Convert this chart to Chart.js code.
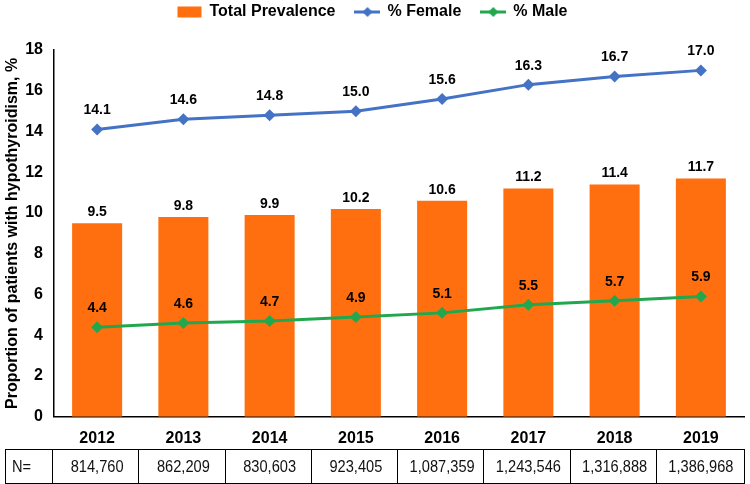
<!DOCTYPE html>
<html>
<head>
<meta charset="utf-8">
<script src="https://cdn.jsdelivr.net/npm/chart.js@4"></script>
<style>
  body { margin: 0; background: #fff; }
  #wrap { width: 750px; height: 484px; }
</style>
</head>
<body>
<div id="wrap"><canvas id="chart" width="750" height="484"></canvas></div>
<script>
const years = ['2012', '2013', '2014', '2015', '2016', '2017', '2018', '2019'];
const totalPrev = [9.5, 9.8, 9.9, 10.2, 10.6, 11.2, 11.4, 11.7];
const female = [14.1, 14.6, 14.8, 15.0, 15.6, 16.3, 16.7, 17.0];
const male = [4.4, 4.6, 4.7, 4.9, 5.1, 5.5, 5.7, 5.9];
const nValues = ['814,760', '862,209', '830,603', '923,405', '1,087,359', '1,243,546', '1,316,888', '1,386,968'];

const ORANGE = '#FF6F10';
const BLUE = '#4472C4';
const GREEN = '#21A84E';
const FONT = '"Liberation Sans", Arial, sans-serif';

// little line+diamond icons for the legend
function lineIcon(color) {
  const c = document.createElement('canvas');
  c.width = 26; c.height = 12;
  const g = c.getContext('2d');
  g.strokeStyle = color; g.lineWidth = 3;
  g.beginPath(); g.moveTo(0, 6); g.lineTo(26, 6); g.stroke();
  g.fillStyle = color;
  g.beginPath(); g.moveTo(13, 1); g.lineTo(18, 6); g.lineTo(13, 11); g.lineTo(8, 6); g.closePath(); g.fill();
  return c;
}

// legend: keep wide item spacing but sit it near the top edge
const legendGap = {
  id: 'legendGap',
  beforeInit(chart) {
    const fit = chart.legend.fit;
    chart.legend.fit = function () {
      fit.call(this);
      this.height += 4;
    };
  },
  afterLayout(chart) {
    chart.legend.top -= 16;
    chart.legend.bottom -= 16;
  }
};

const valueLabels = {
  id: 'valueLabels',
  afterDatasetsDraw(chart) {
    const ctx = chart.ctx;
    ctx.save();
    ctx.font = 'bold 14px ' + FONT;
    ctx.fillStyle = '#000';
    ctx.textAlign = 'center';
    ctx.textBaseline = 'middle';
    chart.data.datasets.forEach((ds, i) => {
      const meta = chart.getDatasetMeta(i);
      const off = ds.type === 'bar' ? 11 : 19;
      meta.data.forEach((el, j) => {
        ctx.fillText(ds.data[j].toFixed(1), el.x, el.y - off);
      });
    });
    ctx.restore();
  }
};

function narrowText(ctx, txt, x, y) {
  ctx.save();
  ctx.translate(x, y);
  ctx.scale(0.86, 1);
  ctx.fillText(txt, 0, 0);
  ctx.restore();
}

// N= table under the axis
const nTable = {
  id: 'nTable',
  afterDraw(chart) {
    const ctx = chart.ctx;
    const xs = chart.scales.x;
    const top = 449, bottom = 483;
    const step = (xs.right - xs.left) / years.length;
    const mid = (top + bottom) / 2 + 1;
    ctx.save();
    ctx.strokeStyle = '#000';
    ctx.lineWidth = 1;
    ctx.strokeRect(5.5, top + 0.5, xs.right - 5, bottom - top);
    for (let i = 0; i < years.length; i++) {
      const x = Math.round(xs.left - 2 + i * step) + 0.5;
      ctx.beginPath(); ctx.moveTo(x, top); ctx.lineTo(x, bottom); ctx.stroke();
    }
    ctx.font = '17px ' + FONT;
    ctx.fillStyle = '#111';
    ctx.textBaseline = 'middle';
    ctx.textAlign = 'left';
    narrowText(ctx, 'N=', 12, mid);
    ctx.textAlign = 'center';
    nValues.forEach((v, i) => {
      narrowText(ctx, v, xs.getPixelForValue(i), mid);
    });
    ctx.restore();
  }
};

new Chart(document.getElementById('chart'), {
  type: 'bar',
  data: {
    labels: years,
    datasets: [
      {
        type: 'bar', label: 'Total Prevalence', data: totalPrev,
        backgroundColor: ORANGE, barPercentage: 0.58, categoryPercentage: 1, order: 3
      },
      {
        type: 'line', label: '% Female', data: female,
        borderColor: BLUE, backgroundColor: BLUE, borderWidth: 3,
        pointStyle: 'rectRot', pointRadius: 6, pointBorderWidth: 0, order: 1
      },
      {
        type: 'line', label: '% Male', data: male,
        borderColor: GREEN, backgroundColor: GREEN, borderWidth: 3,
        pointStyle: 'rectRot', pointRadius: 6, pointBorderWidth: 0, order: 2
      }
    ]
  },
  options: {
    responsive: false,
    animation: false,
    layout: { padding: { left: 0, right: 5, top: 0, bottom: 24 } },
    plugins: {
      tooltip: { enabled: false },
      legend: {
        position: 'top',
        labels: {
          usePointStyle: true,
          pointStyleWidth: 24,
          boxHeight: 11,
          padding: 20,
          color: '#000',
          font: { family: FONT, size: 16, weight: 'bold' },
          sort: (a, b) => a.datasetIndex - b.datasetIndex,
          generateLabels(chart) {
            const items = Chart.defaults.plugins.legend.labels.generateLabels(chart);
            items.forEach(it => {
              if (it.datasetIndex === 0) { it.pointStyle = 'rect'; it.lineWidth = 0; }
              if (it.datasetIndex === 1) it.pointStyle = lineIcon(BLUE);
              if (it.datasetIndex === 2) it.pointStyle = lineIcon(GREEN);
            });
            return items;
          }
        }
      }
    },
    scales: {
      x: {
        grid: { display: false, drawTicks: false },
        border: { display: true, color: '#000', width: 1.5 },
        ticks: {
          color: '#000', padding: 12,
          font: { family: FONT, size: 16, weight: 'bold' }
        }
      },
      y: {
        min: 0, max: 18,
        grid: { display: false, drawTicks: false },
        border: { display: true, color: '#000', width: 1.5 },
        ticks: {
          stepSize: 2, color: '#000', padding: 11,
          font: { family: FONT, size: 16, weight: 'bold' }
        },
        title: {
          display: true,
          text: 'Proportion of patients with hypothyroidism, %',
          color: '#000', padding: { top: 3, bottom: 0 },
          font: { family: FONT, size: 16, weight: 'bold' }
        },
        afterFit(scale) { scale.width = 54; }
      }
    }
  },
  plugins: [legendGap, valueLabels, nTable]
});
</script>
</body>
</html>
